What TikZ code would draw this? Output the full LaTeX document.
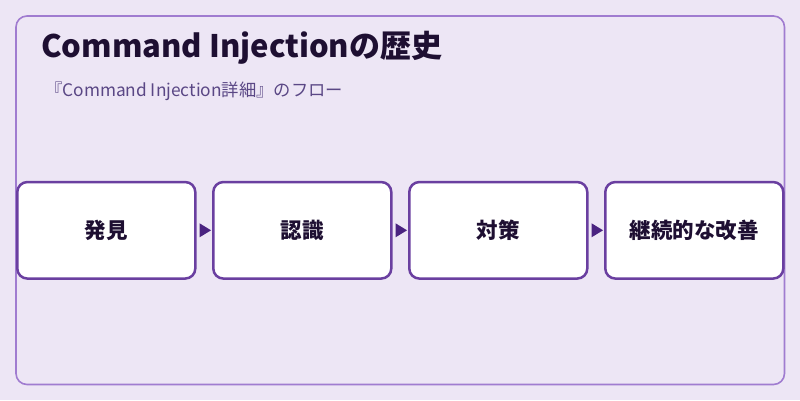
\documentclass[tikz,border=0pt]{standalone}
\usepackage{fontspec}
\setmainfont{Noto Sans CJK JP}
\usetikzlibrary{arrows.meta}
\definecolor{bgc}{HTML}{EDE6F5}
\definecolor{panelline}{HTML}{A07CD0}
\definecolor{boxline}{HTML}{6A3FA0}
\definecolor{arrowc}{HTML}{4A2380}
\definecolor{titlec}{HTML}{1E0F32}
\definecolor{subc}{HTML}{5A4785}
\tikzset{
  stepbox/.style={draw=boxline, line width=2.5pt, fill=white, rounded corners=10pt,
    minimum width=178pt, minimum height=96.5pt, inner sep=0pt,
    font=\fontsize{21.5}{24}\selectfont\bfseries, text=titlec}
}
\begin{document}
\begin{tikzpicture}[x=1pt,y=-1pt]
\useasboundingbox (0,0) rectangle (800,400);
\fill[bgc] (0,0) rectangle (800,400);
\draw[panelline, line width=1.6pt, fill=bgc, rounded corners=11pt] (16,16) rectangle (784.5,384.5);
\node[anchor=base west, inner sep=0pt, text=titlec, font=\fontsize{31}{35}\selectfont\bfseries] (title) at (41,57.5) {Command Injectionの歴史};
\node[anchor=base west, inner sep=0pt, text=subc, font=\fontsize{17.3}{20}\selectfont] (sub) at (45,96) {『Command Injection詳細』のフロー};
\node[stepbox] (s1) at (106.3,230.3) {\raisebox{-1pt}{発見}};
\node[stepbox] (s2) at (302.3,230.3) {\raisebox{-1pt}{認識}};
\node[stepbox] (s3) at (498.3,230.3) {\raisebox{-1pt}{対策}};
\node[stepbox] (s4) at (694.3,230.3) {\raisebox{-1pt}{継続的な改善}};
\foreach \a/\b in {s1/s2,s2/s3,s3/s4}{
  \fill[arrowc] ([xshift=3pt,yshift=7pt]\a.east) -- ([xshift=3pt,yshift=-7pt]\a.east) -- ([xshift=-1pt]\b.west) -- cycle;
}
\end{tikzpicture}
\end{document}
